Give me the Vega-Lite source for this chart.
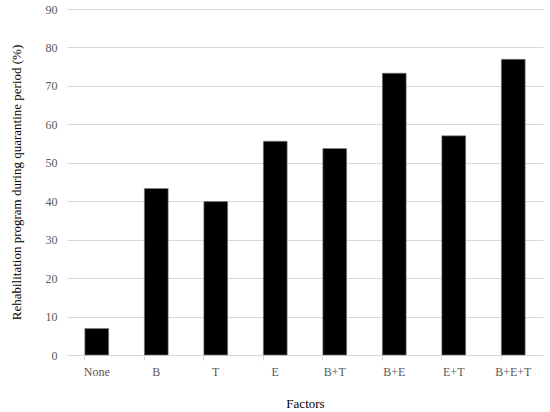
{
  "$schema": "https://vega.github.io/schema/vega-lite/v6.json",
  "width": 476,
  "height": 346,
  "autosize": "none",
  "padding": {"left": 67, "top": 9, "right": 7, "bottom": 57},
  "background": "white",
  "data": {"values": [
    {"factor": "None", "value": 6.9},
    {"factor": "B", "value": 43.3},
    {"factor": "T", "value": 39.9},
    {"factor": "E", "value": 55.6},
    {"factor": "B+T", "value": 53.7},
    {"factor": "B+E", "value": 73.3},
    {"factor": "E+T", "value": 57.0},
    {"factor": "B+E+T", "value": 76.9}
  ]},
  "mark": {"type": "bar", "color": "black", "stroke": "#7f7f7f", "strokeWidth": 0.6},
  "encoding": {
    "x": {
      "field": "factor", "type": "nominal", "sort": null,
      "scale": {"paddingInner": 0.6, "paddingOuter": 0.3},
      "axis": {
        "title": "Factors", "labelAngle": 0, "bandPosition": 0,
        "domainColor": "#d9d9d9", "tickColor": "#d9d9d9", "tickSize": 5,
        "labelFontSize": 12, "labelColor": "#595959",
        "labelPadding": 6,
        "titleFontSize": 13, "titleFontWeight": "normal", "titleColor": "#000000",
        "titlePadding": 20, "grid": false
      }
    },
    "y": {
      "field": "value", "type": "quantitative",
      "scale": {"domain": [0, 90], "nice": false},
      "axis": {
        "title": "Rehabilitation  program  during  quarantine  period (%)",
        "values": [0, 10, 20, 30, 40, 50, 60, 70, 80, 90],
        "domain": false, "ticks": false, "grid": true, "gridColor": "#d9d9d9",
        "labelFontSize": 12, "labelColor": "#595959",
        "labelPadding": 10,
        "titleFontSize": 13, "titleFontWeight": "normal", "titleColor": "#000000",
        "titlePadding": 22
      }
    }
  },
  "config": {"view": {"stroke": null}, "font": "Liberation Serif", "axis": {"labelFont": "Liberation Serif", "titleFont": "Liberation Serif"}}
}
